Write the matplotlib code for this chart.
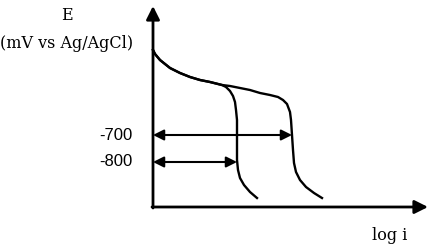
import matplotlib
matplotlib.use('Agg')
import matplotlib.pyplot as plt

# schematic polarisation curves (canvas units, y down)
curve_a_x = [153, 155, 160, 170, 180, 190, 200, 210, 222, 226, 230, 233, 235, 236, 237, 237, 237,
             238, 240, 244, 250, 257]
curve_a_y = [50, 54, 60, 68, 73, 77, 80, 82, 85, 87, 91, 96, 102, 110, 120, 140, 160,
             170, 178, 185, 192, 198]
curve_b_x = [153, 155, 160, 170, 180, 190, 200, 210, 222, 230, 240, 250, 260, 270, 278, 283, 287,
             290, 291, 292, 293, 294, 296, 300, 306, 314, 322]
curve_b_y = [50, 54, 60, 68, 73, 77, 80, 82, 85, 86, 88, 90, 93, 95, 97, 100, 104,
             112, 120, 135, 150, 163, 172, 180, 187, 193, 198]

levels = ['-700', '-800']
level_y = [135, 162]
level_end = [292, 237]

origin = (153, 207)
x_tip = 428
y_tip = 6

fig = plt.figure(figsize=(4.31, 2.5), dpi=100)
ax = fig.add_axes([0, 0, 1, 1])
ax.set_xlim(0, 431)
ax.set_ylim(250, 0)
ax.axis('off')

# axes with arrow heads
ax.annotate('', xy=(x_tip, origin[1]), xytext=(origin[0] - 1, origin[1]),
            arrowprops=dict(arrowstyle='-|>', color='k', lw=2,
                            mutation_scale=20, shrinkA=0, shrinkB=0))
ax.annotate('', xy=(origin[0], y_tip), xytext=(origin[0], origin[1] + 1),
            arrowprops=dict(arrowstyle='-|>', color='k', lw=2,
                            mutation_scale=20, shrinkA=0, shrinkB=0))

ax.plot(curve_a_x, curve_a_y, color='k', lw=1.7, solid_joinstyle='round')
ax.plot(curve_b_x, curve_b_y, color='k', lw=1.7, solid_joinstyle='round')

for lab, yy, xe in zip(levels, level_y, level_end):
    ax.annotate('', xy=(xe, yy), xytext=(origin[0], yy),
                arrowprops=dict(arrowstyle='<|-|>', color='k', lw=1.5,
                                mutation_scale=16, shrinkA=0, shrinkB=0))
    ax.text(116, yy, lab, ha='center', va='center', fontsize=12,
            family='Liberation Sans')

serif = dict(ha='center', va='center', fontsize=11.5, family='DejaVu Serif')
ax.text(67, 16, 'E', **serif)
ax.text(67, 43, '(mV vs Ag/AgCl)', **serif)
ax.text(390, 235, 'log i', **serif)

fig.savefig('out.png', dpi=100)
